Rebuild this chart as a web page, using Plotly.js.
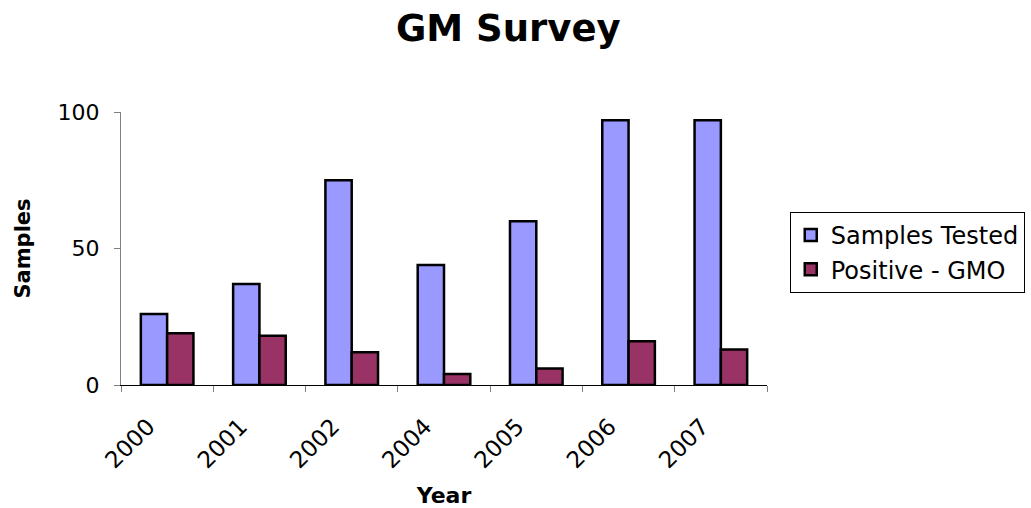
<!DOCTYPE html>
<html>
<head>
<meta charset="utf-8">
<script src="https://cdn.plot.ly/plotly-3.0.1.min.js"></script>
<style>html,body{margin:0;padding:0;background:#fff;}#chart{width:1031px;height:508px;}</style>
</head>
<body>
<div id="chart"></div>
<script>
const years = ["2000", "2001", "2002", "2004", "2005", "2006", "2007"];
const samplesTested = [26, 37, 75, 44, 60, 97, 97];
const positiveGMO = [19, 18, 12, 4, 6, 16, 13];
const yTicks = [0, 50, 100];

const FONT = "DejaVu Sans, Arial, sans-serif";

const traces = [
  {
    type: "bar", name: "Samples Tested", x: years, y: samplesTested,
    marker: {color: "#9999FF", line: {color: "#000000", width: 2.5}}
  },
  {
    type: "bar", name: "Positive - GMO", x: years, y: positiveGMO,
    marker: {color: "#993366", line: {color: "#000000", width: 2.5}}
  }
];

const layout = {
  width: 1031, height: 508,
  paper_bgcolor: "#ffffff", plot_bgcolor: "#ffffff",
  margin: {l: 121, r: 264, t: 112, b: 123, autoexpand: false},
  font: {family: FONT, color: "#000000", size: 22},
  title: {text: "<b>GM Survey</b>", font: {family: FONT, size: 37, color: "#000"}, x: 0.493, xref: "container", xanchor: "center", y: 0.945, yref: "container", yanchor: "middle"},
  barmode: "group", bargap: 0.43, bargroupgap: 0,
  showlegend: true,
  legend: {
    xref: "container", yref: "container",
    x: 0.766, y: 0.583, xanchor: "left", yanchor: "top",
    bordercolor: "#000", borderwidth: 1, bgcolor: "#fff",
    font: {family: FONT, size: 24, color: "#000"},
    traceorder: "normal", itemwidth: 30, tracegroupgap: 0
  },
  xaxis: {
    type: "category",
    title: {text: "<b>Year</b>", font: {family: FONT, size: 22}, standoff: 16},
    tickangle: -45, tickson: "boundaries",
    ticks: "outside", ticklen: 6, tickcolor: "#808080",
    showline: true, linecolor: "#000000", linewidth: 1,
    showgrid: false, zeroline: false,
    tickfont: {family: FONT, size: 23},
    ticklabelshift: -19, ticklabelstandoff: 18
  },
  yaxis: {
    title: {text: "<b>Samples</b>", font: {family: FONT, size: 21}, standoff: 21},
    range: [0, 100], tickvals: yTicks, ticktext: yTicks.map(String),
    ticks: "outside", ticklen: 6, tickcolor: "#808080",
    showline: true, linecolor: "#808080", linewidth: 1,
    showgrid: false, zeroline: false,
    tickfont: {family: FONT, size: 22}, ticklabelstandoff: 10
  }
};

Plotly.newPlot("chart", traces, layout, {displayModeBar: false, staticPlot: true});
</script>
</body>
</html>
